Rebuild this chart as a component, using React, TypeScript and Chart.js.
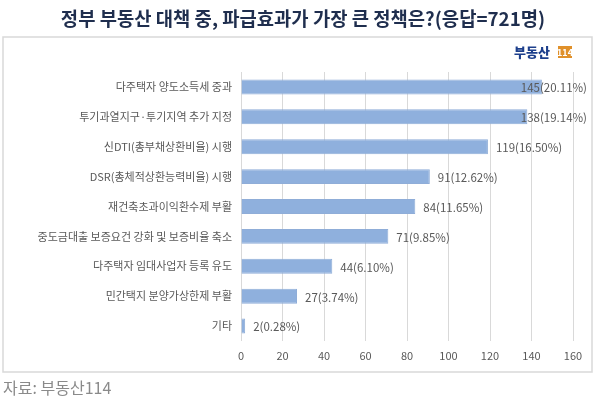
import React, { useEffect, useRef } from "react";
import { Chart, registerables } from "chart.js";

Chart.register(...registerables);

const categories = [
  "다주택자 양도소득세 중과",
  "투기과열지구·투기지역 추가 지정",
  "신DTI(총부채상환비율) 시행",
  "DSR(총체적상환능력비율) 시행",
  "재건축초과이익환수제 부활",
  "중도금대출 보증요건 강화 및 보증비율 축소",
  "다주택자 임대사업자 등록 유도",
  "민간택지 분양가상한제 부활",
  "기타",
];
const counts = [145, 138, 119, 91, 84, 71, 44, 27, 2];
const percents = ["20.11%", "19.14%", "16.50%", "12.62%", "11.65%", "9.85%", "6.10%", "3.74%", "0.28%"];
const titleText = "정부 부동산 대책 중, 파급효과가 가장 큰 정책은?(응답=721명)";
const sourceText = "자료: 부동산114";

const FONT = "'Noto Sans CJK KR', 'Noto Sans', sans-serif";

const decorPlugin = {
  id: "decor",
  beforeDraw(chart: any) {
    const ctx = chart.ctx;
    ctx.save();
    ctx.fillStyle = "#ffffff";
    ctx.fillRect(0, 0, chart.width, chart.height);
    // frame
    ctx.strokeStyle = "#d9d9d9";
    ctx.lineWidth = 1.5;
    ctx.strokeRect(3, 37, 589, 335);
    // title
    ctx.fillStyle = "#1f2e4e";
    ctx.font = `bold 18.8px ${FONT}`;
    ctx.textAlign = "center";
    ctx.textBaseline = "middle";
    ctx.fillText(titleText, 303, 19);
    // logo
    ctx.textAlign = "left";
    ctx.fillStyle = "#1d3f8c";
    ctx.font = `900 13px ${FONT}`;
    ctx.fillText("부동산", 514, 52);
    ctx.fillStyle = "#e0902a";
    ctx.fillRect(558, 46, 14, 12);
    ctx.fillStyle = "#ffffff";
    ctx.font = `bold 9px ${FONT}`;
    ctx.textAlign = "center";
    ctx.fillText("114", 565, 52.5);
    // source
    ctx.textAlign = "left";
    ctx.fillStyle = "#8a8a8a";
    ctx.font = `16px ${FONT}`;
    ctx.fillText(sourceText, 3, 388);
    ctx.restore();
  },
  afterDatasetsDraw(chart: any) {
    const ctx = chart.ctx;
    const meta = chart.getDatasetMeta(0);
    ctx.save();
    ctx.font = `11.5px ${FONT}`;
    ctx.fillStyle = "#595959";
    ctx.textAlign = "left";
    ctx.textBaseline = "middle";
    meta.data.forEach((bar: any, i: number) => {
      const txt = `${counts[i]}(${percents[i]})`;
      const w = ctx.measureText(txt).width;
      const x = Math.min(bar.x + 8, 587 - w);
      ctx.fillText(txt, x, bar.y + 1);
    });
    ctx.restore();
  },
};

export default function App() {
  const ref = useRef<HTMLCanvasElement>(null);
  useEffect(() => {
    document.body.style.margin = "0";
    const chart = new Chart(ref.current!, {
      type: "bar",
      data: {
        labels: categories,
        datasets: [
          {
            data: counts,
            backgroundColor: (c: any) => {
              const { chart: ch } = c;
              const area = ch.chartArea;
              if (!area) return "#9dbae2";
              const el = c.element;
              const y = el && el.y != null ? el.y : area.top;
              const g = ch.ctx.createLinearGradient(0, y - 8, 0, y + 8);
              g.addColorStop(0, "#a9c4e8");
              g.addColorStop(1, "#8fb0dd");
              return g;
            },
            borderColor: "#8fadd8",
            borderWidth: 1,
            categoryPercentage: 1,
            barPercentage: 0.5,
          },
        ],
      },
      options: {
        indexAxis: "y",
        animation: false,
        responsive: false,
        maintainAspectRatio: false,
        layout: { padding: { top: 72, right: 27, bottom: 31, left: 0 } },
        plugins: { legend: { display: false }, tooltip: { enabled: false }, title: { display: false } },
        scales: {
          x: {
            min: 0,
            max: 160,
            ticks: { stepSize: 20, color: "#595959", font: { family: FONT, size: 11 }, padding: 8 },
            grid: { color: "#d9d9d9", drawTicks: false },
            border: { display: false },
            afterFit: (s: any) => {
              s.height = 27;
            },
          },
          y: {
            ticks: { color: "#595959", font: { family: FONT, size: 11 }, padding: 9 },
            grid: { display: false, drawTicks: false },
            border: { display: false },
            afterFit: (s: any) => {
              s.width = 241;
            },
          },
        },
      },
      plugins: [decorPlugin],
    });
    return () => chart.destroy();
  }, []);
  return <canvas ref={ref} width={600} height={399} style={{ display: "block" }} />;
}
